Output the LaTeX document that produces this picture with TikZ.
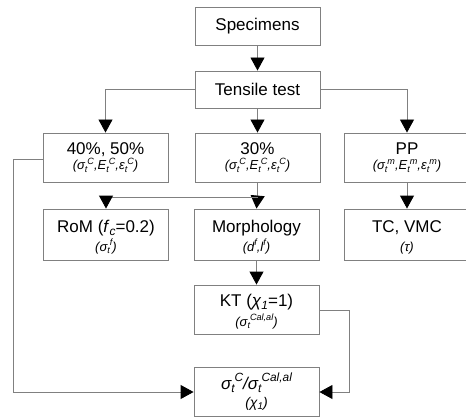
\documentclass[tikz,border=0pt]{standalone}
\usepackage{fontspec}
\setmainfont{Liberation Sans}
\usetikzlibrary{arrows.meta}
\makeatletter
\newcommand{\scrsize}{\fontsize{\strip@pt\dimexpr0.7\dimexpr\f@size pt\relax\relax}{1}\selectfont}
\makeatother
\newcommand{\sbs}[1]{\raisebox{-0.2em}{\scrsize #1}}
\newcommand{\sps}[1]{\raisebox{0.42em}{\scrsize #1}}
\newcommand{\sst}[3]{#1\sbs{#2}\sps{#3}}
\begin{document}
\begin{tikzpicture}[x=1pt,y=-1pt,
  box/.style={draw=black!50, line width=0.9pt, minimum width=125pt, minimum height=49pt, inner sep=0pt, align=center, font=\fontsize{17}{12}\selectfont},
  sbox/.style={box, minimum height=38pt},
  maintxt/.style={anchor=base, font=\fontsize{17}{17}\selectfont, inner sep=0pt},
  sub/.style={anchor=base, font=\fontsize{13}{13}\selectfont\itshape, inner sep=0pt},
  conn/.style={draw=black!50, line width=0.9pt, -{Triangle[length=13pt,width=14pt,fill=black,color=black]}},
  plain/.style={draw=black!50, line width=0.9pt}]
\useasboundingbox (0,0) rectangle (466,417);
\fill[white] (0,0) rectangle (466,417);
% boxes
\node[sbox] (spec) at (257.5,26) {Specimens};
\node[sbox, minimum height=37pt] (tens) at (257.5,89.5) {Tensile test};
\node[box] (b40) at (105.5,157.5) {};
\node[box] (b30) at (257.5,157.5) {};
\node[box] (pp) at (407,157.5) {};
\node[box, minimum height=51pt] (rom) at (106,234.5) {};
\node[box, minimum height=51pt] (morph) at (256.5,234.5) {};
\node[box, minimum height=51pt] (tc) at (407,234.5) {};
\node[box] (kt) at (256.5,309.5) {};
\node[box] (fin) at (256.5,391.5) {};
% texts
\node[maintxt] (t40) at (105.5,155) {40\%, 50\%};
\node[sub] (s40) at (105.5,170) {(\sst{σ}{t}{C},\sst{E}{t}{C},\sst{ε}{t}{C})};
\node[maintxt] (t30) at (257.5,155) {30\%};
\node[sub] (s30) at (257.5,170) {(\sst{σ}{t}{C},\sst{E}{t}{C},\sst{ε}{t}{C})};
\node[maintxt] (tpp) at (407,155) {PP};
\node[sub] (spp) at (407,170) {(\sst{σ}{t}{m},\sst{E}{t}{m},\sst{ε}{t}{m})};
\node[maintxt] (trom) at (106,232) {RoM (\textit{f}\sbs{\textit{c}}=0.2)};
\node[sub] (srom) at (106,251) {(\sst{σ}{t}{f})};
\node[maintxt] (tmorph) at (256.5,232) {Morphology};
\node[sub] (smorph) at (256.5,251) {(d\sps{f},l\sps{f})};
\node[maintxt] (ttc) at (407,232) {TC, VMC};
\node[sub] (stc) at (407,251) {(τ)};
\node[maintxt] (tkt) at (256.5,306) {KT (\textit{χ}\sbs{\textit{1}}=1)};
\node[sub] (skt) at (256.5,326) {(\sst{σ}{t}{Cal,al})};
\node[maintxt, font=\fontsize{17}{17}\selectfont\itshape] (tfin) at (256.5,389) {\sst{σ}{t}{C}/\sst{σ}{t}{Cal,al}};
\node[maintxt, font=\fontsize{14}{14}\selectfont\itshape] (sfin) at (256.5,407) {(χ\sbs{1})};
% connectors
\coordinate (j3) at (257.5,197);
\path[conn] (spec) -- (tens);
\path[conn] (tens) -- (b30);
\path[conn] (tens.west) -| (b40.north);
\path[conn] (tens.east) -| (pp.north);
\path[plain] (b30.south) -- (j3);
\path[conn] (j3) -- (morph.north);
\path[conn] (j3) -| (rom.north);
\path[conn] (pp) -- (tc);
\path[conn] (morph) -- (kt);
\coordinate (l1) at (13,159);
\coordinate (l2) at (13,392);
\coordinate (r1) at (349,310);
\coordinate (r2) at (349,392);
\path[conn] (b40.west |- l1) -- (l1) -- (l2) -- (fin.west |- l2);
\path[conn] (kt.east |- r1) -- (r1) -- (r2) -- (fin.east |- r2);
\end{tikzpicture}
\end{document}
